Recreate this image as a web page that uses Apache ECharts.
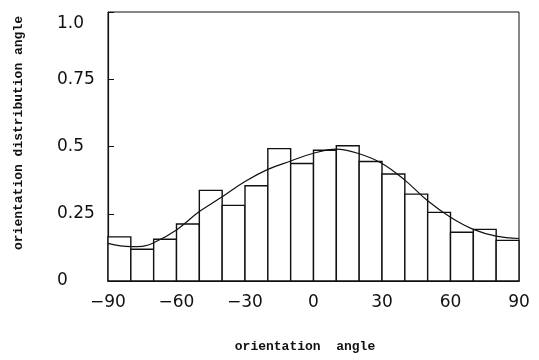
<!DOCTYPE html>
<html>
<head>
<meta charset="utf-8">
<script src="https://cdn.jsdelivr.net/npm/echarts@6/dist/echarts.min.js"></script>
<style>
  html, body { margin: 0; padding: 0; background: #fff; }
  #main { width: 539px; height: 360px; }
</style>
</head>
<body>
<div id="main"></div>
<script>
// histogram bins, 10 degrees wide, -90..90
const binStarts = [-90, -80, -70, -60, -50, -40, -30, -20, -10, 0, 10, 20, 30, 40, 50, 60, 70, 80];
const binValues = [0.164, 0.118, 0.155, 0.212, 0.337, 0.281, 0.354, 0.492, 0.437,
                   0.486, 0.503, 0.444, 0.398, 0.323, 0.255, 0.181, 0.192, 0.151];
const binWidth = 10;

// fitted curve
const curveAngles = [-90, -80, -75, -70, -60, -50, -40, -30, -20, -10, 0, 10, 20, 30, 40, 50, 60, 70, 80, 90];
const curveValues = [0.140, 0.128, 0.129, 0.142, 0.190, 0.258, 0.313, 0.370, 0.415, 0.446,
                     0.475, 0.490, 0.473, 0.437, 0.375, 0.298, 0.237, 0.192, 0.167, 0.158];

const yTicks = { 0: '0', 0.25: '0.25', 0.5: '0.5', 0.75: '0.75', 1: '{top|1.0}' };

const chart = echarts.init(document.getElementById('main'));
const labelFont = { fontFamily: 'DejaVu Sans', fontSize: 17, color: '#111' };
const nameFont = { fontFamily: 'Liberation Mono', fontWeight: 'bold', fontSize: 13, fill: '#111' };

chart.setOption({
  animation: false,
  backgroundColor: '#fff',
  grid: {
    left: 108, right: 20, top: 12, bottom: 79,
    show: true, borderColor: '#111', borderWidth: 1
  },
  xAxis: {
    type: 'value',
    min: -90, max: 90, interval: 30,
    splitLine: { show: false },
    axisLine: { onZero: false, lineStyle: { color: '#111', width: 1.2 } },
    axisTick: { show: false },
    axisLabel: Object.assign({
      margin: 13,
      formatter: v => (v < 0 ? '\u2212' + Math.abs(v) : String(v))
    }, labelFont)
  },
  yAxis: {
    type: 'value',
    min: 0, max: 1, interval: 0.25,
    splitLine: { show: false },
    axisLine: { show: true, onZero: false, lineStyle: { color: '#111', width: 1.2 } },
    axisTick: { show: true, inside: true, length: 6, lineStyle: { color: '#111' } },
    axisLabel: Object.assign({
      align: 'left',
      margin: 51,
      formatter: v => yTicks[v] !== undefined ? yTicks[v] : '',
      rich: { top: Object.assign({ padding: [24, 0, 0, 0] }, labelFont) }
    }, labelFont)
  },
  series: [
    {
      type: 'custom',
      data: binStarts.map((s, i) => [s, s + binWidth, binValues[i]]),
      encode: { x: [0, 1], y: 2 },
      silent: true,
      renderItem: (params, api) => {
        const p0 = api.coord([api.value(0), 0]);
        const p1 = api.coord([api.value(1), api.value(2)]);
        return {
          type: 'rect',
          shape: { x: p0[0], y: p1[1], width: p1[0] - p0[0], height: p0[1] - p1[1] },
          style: { fill: '#fff', stroke: '#111', lineWidth: 1.4 }
        };
      }
    },
    {
      type: 'line',
      data: curveAngles.map((a, i) => [a, curveValues[i]]),
      smooth: 0.4,
      showSymbol: false,
      lineStyle: { color: '#111', width: 1.2 },
      z: 5
    }
  ],
  graphic: [
    {
      type: 'text',
      x: 305, y: 347,
      style: Object.assign({ text: 'orientation  angle', align: 'center', verticalAlign: 'middle' }, nameFont)
    },
    {
      type: 'text',
      x: 19, y: 133,
      rotation: Math.PI / 2,
      style: Object.assign({ text: 'orientation distribution angle', align: 'center', verticalAlign: 'middle' }, nameFont)
    }
  ]
});
</script>
</body>
</html>
